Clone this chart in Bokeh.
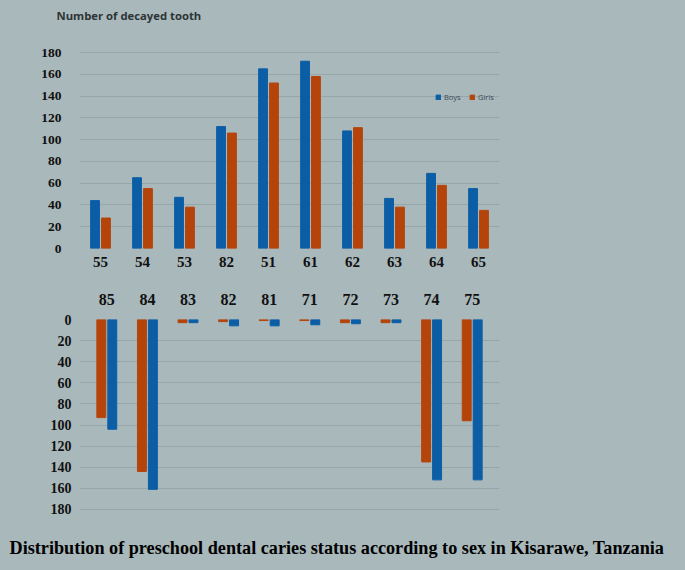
from bokeh.plotting import figure
from bokeh.models import FactorRange, Range1d, FixedTicker, Legend, LegendItem, ColumnDataSource
from bokeh.transform import dodge
from bokeh.layouts import column
from bokeh.embed import file_html
from bokeh.resources import INLINE

# ---- data ----
upper_teeth = ["55", "54", "53", "82", "51", "61", "62", "63", "64", "65"]
upper_boys = [44, 65, 47, 112, 165, 172, 108, 46, 69, 55]
upper_girls = [28, 55, 38, 106, 152, 158, 111, 38, 58, 35]

lower_teeth = ["85", "84", "83", "82", "81", "71", "72", "73", "74", "75"]
lower_girls = [93, 144, 3, 2, 1, 1, 3, 3, 135, 96]
lower_boys = [104, 161, 3, 6, 6, 5, 4, 3, 152, 152]

y_ticks = [0, 20, 40, 60, 80, 100, 120, 140, 160, 180]

BG = "#a9b8bb"
GRID = "#97a6a9"
BLUE = "#0b5ea6"
ORANGE = "#b5440b"
SERIF = "Liberation Serif"

def style(p, label_size, y_size, y_standoff, x_standoff):
    p.background_fill_color = BG
    p.border_fill_color = BG
    p.outline_line_color = None
    p.xgrid.grid_line_color = None
    p.ygrid.grid_line_color = GRID
    p.ygrid.ticker = FixedTicker(ticks=y_ticks)
    p.yaxis.ticker = FixedTicker(ticks=y_ticks)
    for ax in (p.xaxis[0], p.yaxis[0]):
        ax.axis_line_color = None
        ax.major_tick_line_color = None
        ax.minor_tick_line_color = None
        ax.major_tick_out = 0
        ax.major_tick_in = 0
        ax.minor_tick_out = 0
        ax.major_label_text_font = SERIF
        ax.major_label_text_font_style = "bold"
        ax.major_label_text_color = "#111111"
    p.xaxis.major_label_text_font_size = label_size
    p.yaxis.major_label_text_font_size = y_size
    p.yaxis.major_label_standoff = y_standoff
    p.xaxis.major_label_standoff = x_standoff

# ---- upper jaw ----
src1 = ColumnDataSource(dict(tooth=upper_teeth, boys=upper_boys, girls=upper_girls))
p1 = figure(x_range=FactorRange(*upper_teeth), y_range=Range1d(0, 203),
            frame_width=420, frame_height=221,
            min_border_left=79, min_border_right=184, min_border_top=17, min_border_bottom=34,
            output_backend="svg", toolbar_location=None,
            title="Number of decayed tooth")
style(p1, "15px", "13.5px", 18, 8)
p1.title.align = "left"
p1.title.offset = -23
p1.title.text_font = "Open Sans"
p1.title.text_font_size = "11.3px"
p1.title.text_font_style = "bold"
p1.title.text_color = "#2e3436"

rb = p1.vbar(x=dodge("tooth", -0.13, range=p1.x_range), top="boys", width=0.21,
             source=src1, fill_color=BLUE, line_color=BLUE)
rg = p1.vbar(x=dodge("tooth", 0.13, range=p1.x_range), top="girls", width=0.21,
             source=src1, fill_color=ORANGE, line_color=ORANGE)

legend = Legend(items=[LegendItem(label="Boys", renderers=[rb]),
                       LegendItem(label="Girls", renderers=[rg])],
                location=(356, 146), orientation="horizontal")
legend.glyph_width = 6
legend.glyph_height = 6
legend.label_text_font = "Open Sans"
legend.label_text_font_size = "7.5px"
legend.label_text_color = "#3c4a58"
legend.label_standoff = 3
legend.spacing = 5
legend.padding = 0
legend.margin = 0
legend.background_fill_alpha = 0
legend.border_line_color = None
p1.add_layout(legend)

# ---- lower jaw ----
src2 = ColumnDataSource(dict(tooth=lower_teeth, boys=lower_boys, girls=lower_girls))
p2 = figure(x_range=FactorRange(*lower_teeth, range_padding=0.1725, range_padding_units="absolute"),
            y_range=Range1d(200, 0),
            frame_width=420, frame_height=211,
            min_border_left=79, min_border_right=184, min_border_top=37, min_border_bottom=34,
            output_backend="svg", toolbar_location=None, x_axis_location="above",
            title="Distribution of preschool dental caries status according to sex in Kisarawe, Tanzania",
            title_location="below")
style(p2, "16px", "14px", 8, 15)

p2.vbar(x=dodge("tooth", -0.135, range=p2.x_range), top=0, bottom="girls", width=0.22,
        source=src2, fill_color=ORANGE, line_color=ORANGE)
p2.vbar(x=dodge("tooth", 0.135, range=p2.x_range), top=0, bottom="boys", width=0.22,
        source=src2, fill_color=BLUE, line_color=BLUE)

p2.title.align = "left"
p2.title.offset = -70
p2.title.text_font = SERIF
p2.title.text_font_size = "18.2px"
p2.title.text_font_style = "bold"
p2.title.text_color = "#000000"

layout = column(p1, p2, spacing=0)
layout.styles = {"background-color": BG}

html = file_html(layout, INLINE)
html = html.replace("</head>", "<style>html, body { background-color: %s; }</style></head>" % BG, 1)
open("out.html", "w").write(html)
